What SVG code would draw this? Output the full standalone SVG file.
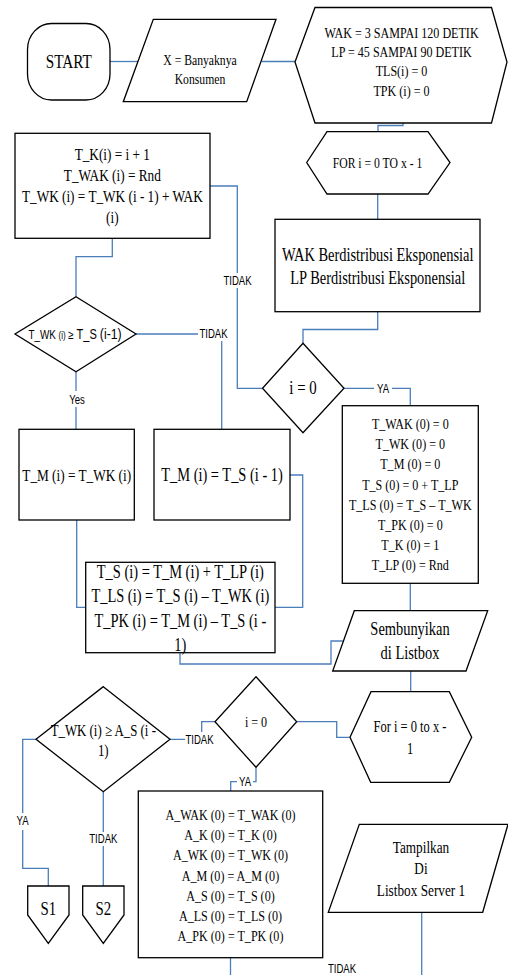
<svg xmlns="http://www.w3.org/2000/svg" width="508" height="975" viewBox="0 0 508 975">
  <style>
    .shape { fill: #ffffff; stroke: #000000; stroke-width: 1.3; }
    .conn { fill: none; stroke: #4a7ebb; stroke-width: 1.3; }
    .t { font-family: "Liberation Serif", "Times New Roman", serif; text-anchor: middle; fill: #000000; }
    .lbl { font-family: "Liberation Sans", Arial, sans-serif; font-size: 12px; text-anchor: middle; fill: #000000; }
    .bg { fill: #ffffff; }
  </style>
  <rect width="508" height="975" fill="#ffffff"/>

  <!-- connectors -->
  <g id="connectors">
    <path class="conn" d="M110,61.5 H138"/>
    <path class="conn" d="M261.5,61.5 H295"/>
    <path class="conn" d="M403,123 V125.5 H378 V131.7"/>
    <path class="conn" d="M377.7,194 V219.3"/>
    <path class="conn" d="M377.7,311.7 V329.5 H303 V343.3"/>
    <path class="conn" d="M344,388.3 H410.3 V405.7"/>
    <path class="conn" d="M262.5,388.3 H237.3 V186 H210"/>
    <path class="conn" d="M112.3,238.3 V256.7 H76 V296.7"/>
    <path class="conn" d="M136,334 H221.7 V429.3"/>
    <path class="conn" d="M76,371.7 V429.3"/>
    <path class="conn" d="M76.7,520 V607.3 H85.7"/>
    <path class="conn" d="M290,475 H302.7 V607.3 H275"/>
    <path class="conn" d="M180,652.7 V664 H331 V641 H343.4"/>
    <path class="conn" d="M410.3,583.3 V610.7"/>
    <path class="conn" d="M410.7,671 V691.7"/>
    <path class="conn" d="M296.7,721.7 H336.7 V737.3 H350"/>
    <path class="conn" d="M215,721.7 H201.7 V739.3 H170"/>
    <path class="conn" d="M256,767.3 V781.7 H230.7 V791"/>
    <path class="conn" d="M36,739.3 H22.7 V868.3 H48.3 V886"/>
    <path class="conn" d="M103.3,791.7 V886"/>
    <path class="conn" d="M230.5,957.7 V975"/>
    <path class="conn" d="M421.7,912.3 V975"/>

    <!-- connector labels -->
    <rect class="bg" x="374" y="381" width="18" height="14"/>
    <g transform="translate(383 0) scale(0.8 1)"><text class="lbl" x="0" y="392.6">YA</text></g>

    <rect class="bg" x="222" y="273" width="31" height="15"/>
    <g transform="translate(237.5 0) scale(0.8 1)"><text class="lbl" x="0" y="285.3">TIDAK</text></g>

    <rect class="bg" x="198" y="326" width="31" height="15"/>
    <g transform="translate(213.5 0) scale(0.8 1)"><text class="lbl" x="0" y="338.3">TIDAK</text></g>

    <rect class="bg" x="67" y="391" width="20" height="16"/>
    <g transform="translate(77 0) scale(0.8 1)"><text class="lbl" x="0" y="403.6">Yes</text></g>

    <rect class="bg" x="185" y="732" width="30" height="15"/>
    <g transform="translate(199.5 0) scale(0.8 1)"><text class="lbl" x="0" y="743.6">TIDAK</text></g>

    <rect class="bg" x="237" y="775" width="16" height="14"/>
    <g transform="translate(245 0) scale(0.8 1)"><text class="lbl" x="0" y="786">YA</text></g>

    <rect class="bg" x="14" y="813" width="17" height="17"/>
    <g transform="translate(22.5 0) scale(0.8 1)"><text class="lbl" x="0" y="825.3">YA</text></g>

    <rect class="bg" x="88" y="832" width="31" height="14"/>
    <g transform="translate(103.3 0) scale(0.8 1)"><text class="lbl" x="0" y="843.3">TIDAK</text></g>

    <g transform="translate(342 0) scale(0.8 1)"><text class="lbl" x="0" y="973.5">TIDAK</text></g>
  </g>

  <!-- START terminator -->
  <g id="start">
    <rect class="shape" x="27.5" y="23.5" width="82.5" height="76.5" rx="24" ry="26"/>
    <g transform="translate(68.7 0) scale(0.78 1)"><text class="t" x="0" y="68.5" font-size="19.5">START</text></g>
  </g>

  <!-- customer count input -->
  <g id="input-x">
    <polygon class="shape" points="153.3,19.3 276,19.3 246.7,101.7 123.3,101.7"/>
    <g transform="translate(200 0) scale(0.78 1)">
      <text class="t" x="0" y="65.5" font-size="15">X = Banyaknya</text>
      <text class="t" x="0" y="84" font-size="15">Konsumen</text>
    </g>
  </g>

  <!-- parameter preparation -->
  <g id="init-params">
    <polygon class="shape" points="295,62 315,7.5 491.5,7.5 507,62 491.5,123 315,123"/>
    <g transform="translate(401.5 0) scale(0.78 1)">
      <text class="t" x="0" y="38" font-size="15.5">WAK = 3 SAMPAI 120 DETIK</text>
      <text class="t" x="0" y="57.2" font-size="15.5">LP = 45 SAMPAI 90 DETIK</text>
      <text class="t" x="0" y="76.4" font-size="15.5">TLS(i) = 0</text>
      <text class="t" x="0" y="95.6" font-size="15.5">TPK (i) = 0</text>
    </g>
  </g>

  <!-- first loop -->
  <g id="for-loop-1">
    <polygon class="shape" points="306.7,162.5 327,131.7 428,131.7 450,162.5 428,194 327,194"/>
    <g transform="translate(377.5 0) scale(0.78 1)"><text class="t" x="0" y="168.3" font-size="15">FOR i = 0 TO x - 1</text></g>
  </g>

  <!-- distribution process -->
  <g id="distribution">
    <rect class="shape" x="275" y="219.3" width="205" height="92.4"/>
    <g transform="translate(377.7 0) scale(0.78 1)">
      <text class="t" x="0" y="261.3" font-size="18.5">WAK Berdistribusi Eksponensial</text>
      <text class="t" x="0" y="284.5" font-size="18.5">LP Berdistribusi Eksponensial</text>
    </g>
  </g>

  <!-- i = 0 check -->
  <g id="check-i0">
    <polygon class="shape" points="303,343.3 344,388.3 303,432.7 262.5,388.3"/>
    <g transform="translate(303 0) scale(0.78 1)"><text class="t" x="0" y="394.5" font-size="19">i = 0</text></g>
  </g>

  <!-- first customer values -->
  <g id="init-first">
    <rect class="shape" x="342.3" y="405.7" width="136" height="177.6"/>
    <g transform="translate(410.3 0) scale(0.78 1)">
      <text class="t" x="0" y="429" font-size="15.5">T_WAK (0) = 0</text>
      <text class="t" x="0" y="449.2" font-size="15.5">T_WK (0) = 0</text>
      <text class="t" x="0" y="469.4" font-size="15.5">T_M (0) = 0</text>
      <text class="t" x="0" y="489.6" font-size="15.5">T_S (0) = 0 + T_LP</text>
      <text class="t" x="0" y="509.8" font-size="15.5">T_LS (0) = T_S – T_WK</text>
      <text class="t" x="0" y="530" font-size="15.5">T_PK (0) = 0</text>
      <text class="t" x="0" y="550.2" font-size="15.5">T_K (0) = 1</text>
      <text class="t" x="0" y="570.4" font-size="15.5">T_LP (0) = Rnd</text>
    </g>
  </g>

  <!-- next customer arrival -->
  <g id="next-arrival">
    <rect class="shape" x="15" y="133.3" width="195" height="105"/>
    <g transform="translate(112.3 0) scale(0.78 1)">
      <text class="t" x="0" y="160.5" font-size="17">T_K(i) = i + 1</text>
      <text class="t" x="0" y="181.5" font-size="17">T_WAK (i) = Rnd</text>
      <text class="t" x="0" y="202.5" font-size="17">T_WK (i) = T_WK (i - 1) + WAK</text>
      <text class="t" x="0" y="223.5" font-size="17">(i)</text>
    </g>
  </g>

  <!-- arrival vs. previous service end -->
  <g id="check-arrival">
    <polygon class="shape" points="76,296.7 136,334 76,371.7 15,334"/>
    <g transform="translate(75 0) scale(0.79 1)">
      <text x="0" y="339" style="font-family:'Liberation Sans',Arial,sans-serif;text-anchor:middle;fill:#000"><tspan font-size="12.5">T_WK </tspan><tspan font-size="10">(i)</tspan><tspan font-size="12.5"> ≥ </tspan><tspan font-size="14">T_S </tspan><tspan font-size="15.5">(i-1)</tspan></text>
    </g>
  </g>

  <!-- service start = arrival -->
  <g id="start-at-arrival">
    <rect class="shape" x="19" y="429.3" width="115.3" height="90.7"/>
    <g transform="translate(76.7 0) scale(0.78 1)"><text class="t" x="0" y="481" font-size="17">T_M (i) = T_WK (i)</text></g>
  </g>

  <!-- service start = previous end -->
  <g id="start-at-prev-end">
    <rect class="shape" x="154" y="429.3" width="136" height="90.7"/>
    <g transform="translate(222 0) scale(0.78 1)"><text class="t" x="0" y="481" font-size="18.5">T_M (i) = T_S (i - 1)</text></g>
  </g>

  <!-- service end, queue and idle times -->
  <g id="service-times">
    <rect class="shape" x="85.7" y="562.3" width="189.3" height="90.4"/>
    <g transform="translate(180.3 0) scale(0.78 1)">
      <text class="t" x="0" y="578" font-size="18.5">T_S (i) = T_M (i) + T_LP (i)</text>
      <text class="t" x="0" y="602" font-size="18.5">T_LS (i) = T_S (i) – T_WK (i)</text>
      <text class="t" x="0" y="627" font-size="18.5">T_PK (i) = T_M (i) – T_S (i -</text>
      <text class="t" x="0" y="651" font-size="18.5">1)</text>
    </g>
  </g>

  <!-- hidden listbox -->
  <g id="hide-listbox">
    <polygon class="shape" points="354.3,610.7 487.7,610.7 466,671 332.7,671"/>
    <g transform="translate(410 0) scale(0.78 1)">
      <text class="t" x="0" y="635.5" font-size="18.5">Sembunyikan</text>
      <text class="t" x="0" y="659" font-size="18.5">di Listbox</text>
    </g>
  </g>

  <!-- second loop -->
  <g id="for-loop-2">
    <polygon class="shape" points="350,737.3 371,691.7 449.3,691.7 471.7,737.3 449.3,782.3 370.7,782.3"/>
    <g transform="translate(410 0) scale(0.78 1)">
      <text class="t" x="0" y="732.5" font-size="16">For i = 0 to x -</text>
      <text class="t" x="0" y="754" font-size="16">1</text>
    </g>
  </g>

  <!-- i = 0 check, server 1 -->
  <g id="check-i0-server">
    <polygon class="shape" points="256,676.7 296.7,721.7 256,767.3 215,721.7"/>
    <g transform="translate(256 0) scale(0.78 1)"><text class="t" x="0" y="727.5" font-size="15.5">i = 0</text></g>
  </g>

  <!-- arrival vs. server end -->
  <g id="check-server">
    <polygon class="shape" points="103.3,686.7 170,739.3 103.3,791.7 36,739.3"/>
    <g transform="translate(103.3 0) scale(0.78 1)">
      <text class="t" x="0" y="736" font-size="16.5">T_WK (i) ≥ A_S (i -</text>
      <text class="t" x="0" y="756" font-size="16.5">1)</text>
    </g>
  </g>

  <!-- off-page connectors -->
  <g id="s1">
    <polygon class="shape" points="27.7,886 69,886 69,915 48.3,943.3 27.7,915"/>
    <g transform="translate(48.3 0) scale(0.78 1)"><text class="t" x="0" y="915" font-size="19">S1</text></g>
  </g>
  <g id="s2">
    <polygon class="shape" points="82.7,886 124,886 124,915 103.3,943.3 82.7,915"/>
    <g transform="translate(103.3 0) scale(0.78 1)"><text class="t" x="0" y="915" font-size="19">S2</text></g>
  </g>

  <!-- server 1 first customer -->
  <g id="server-first">
    <rect class="shape" x="138.3" y="791" width="184.4" height="166.7"/>
    <g transform="translate(230.5 0) scale(0.78 1)">
      <text class="t" x="0" y="820" font-size="15.5">A_WAK (0) = T_WAK (0)</text>
      <text class="t" x="0" y="840.2" font-size="15.5">A_K (0) = T_K (0)</text>
      <text class="t" x="0" y="860.4" font-size="15.5">A_WK (0) = T_WK (0)</text>
      <text class="t" x="0" y="880.6" font-size="15.5">A_M (0) = A_M (0)</text>
      <text class="t" x="0" y="900.8" font-size="15.5">A_S (0) = T_S (0)</text>
      <text class="t" x="0" y="921" font-size="15.5">A_LS (0) = T_LS (0)</text>
      <text class="t" x="0" y="941.2" font-size="15.5">A_PK (0) = T_PK (0)</text>
    </g>
  </g>

  <!-- show in server 1 listbox -->
  <g id="show-server1">
    <polygon class="shape" points="359.3,824.3 508,824.3 482.7,912.3 328.3,912.3"/>
    <g transform="translate(421 0) scale(0.78 1)">
      <text class="t" x="0" y="852.7" font-size="17">Tampilkan</text>
      <text class="t" x="0" y="874.3" font-size="17">Di</text>
      <text class="t" x="0" y="896" font-size="17">Listbox Server 1</text>
    </g>
  </g>
</svg>
